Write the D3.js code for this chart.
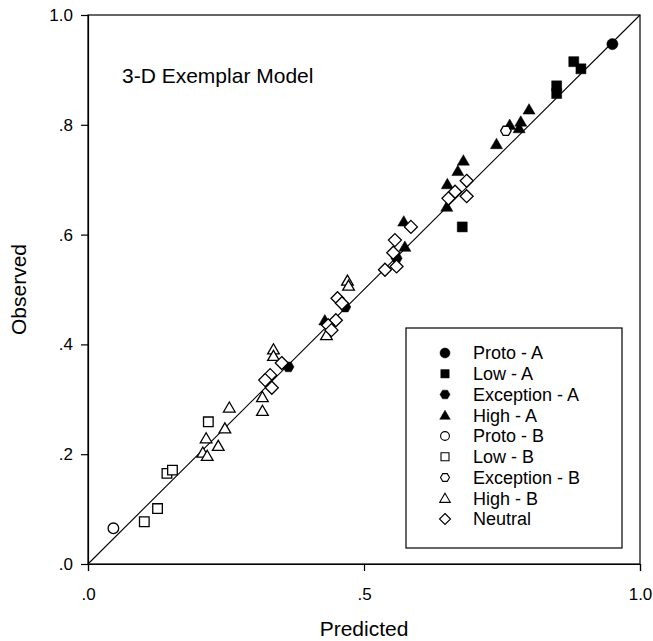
<!DOCTYPE html>
<html>
<head>
<meta charset="utf-8">
<script src="https://cdn.jsdelivr.net/npm/d3@7"></script>
<style>
body { margin: 0; background: #fff; }
text { font-family: "Liberation Sans", Arial, sans-serif; fill: #000; }
</style>
</head>
<body>
<script>
// values, [predicted, observed]
const protoA = [[0.950, 0.947]];
const lowA = [[0.880, 0.915], [0.893, 0.902], [0.849, 0.871], [0.849, 0.857], [0.678, 0.614]];
const exceptionA = [[0.363, 0.359], [0.559, 0.557], [0.466, 0.468]];
const highA = [[0.799, 0.828], [0.764, 0.800], [0.784, 0.806], [0.781, 0.794], [0.740, 0.765],
  [0.680, 0.735], [0.670, 0.716], [0.651, 0.692], [0.650, 0.651], [0.572, 0.624],
  [0.574, 0.578], [0.429, 0.444]];
const protoB = [[0.046, 0.065]];
const lowB = [[0.102, 0.077], [0.126, 0.101], [0.143, 0.165], [0.153, 0.171], [0.218, 0.259]];
const exceptionB = [[0.757, 0.789]];
const highB = [[0.256, 0.285], [0.248, 0.247], [0.214, 0.229], [0.236, 0.215], [0.208, 0.203],
  [0.216, 0.197], [0.316, 0.304], [0.316, 0.279], [0.336, 0.391], [0.336, 0.379],
  [0.470, 0.516], [0.472, 0.507], [0.432, 0.417]];
const neutral = [[0.686, 0.698], [0.665, 0.678], [0.686, 0.670], [0.653, 0.666], [0.585, 0.614],
  [0.556, 0.590], [0.553, 0.567], [0.559, 0.542], [0.538, 0.536], [0.452, 0.484],
  [0.460, 0.475], [0.449, 0.444], [0.435, 0.435], [0.441, 0.426], [0.351, 0.366],
  [0.330, 0.344], [0.321, 0.335], [0.333, 0.321]];

const seriesNames = ["Proto - A", "Low - A", "Exception - A", "High - A",
  "Proto - B", "Low - B", "Exception - B", "High - B", "Neutral"];
const seriesData = [protoA, lowA, exceptionA, highA, protoB, lowB, exceptionB, highB, neutral];

const xTicks = [0, 0.5, 1];
const xTickLabels = [".0", ".5", "1.0"];
const yTicks = [0, 0.2, 0.4, 0.6, 0.8, 1];
const yTickLabels = [".0", ".2", ".4", ".6", ".8", "1.0"];

// marker shapes, size argument is a radius
const shapes = {
  circle: { draw(c, r) { c.moveTo(r, 0); c.arc(0, 0, r, 0, 2 * Math.PI); } },
  square: { draw(c, r) { c.rect(-r, -r, 2 * r, 2 * r); } },
  triangle: { draw(c, r) {
    c.moveTo(0, -r * 1.05); c.lineTo(r * 1.1, r * 0.85); c.lineTo(-r * 1.1, r * 0.85); c.closePath();
  } },
  diamond: { draw(c, r) {
    c.moveTo(0, -r); c.lineTo(r, 0); c.lineTo(0, r); c.lineTo(-r, 0); c.closePath();
  } },
  hexagon: { draw(c, r) {
    for (let i = 0; i < 6; i++) {
      const a = Math.PI / 3 * i;
      if (i == 0) c.moveTo(r * Math.cos(a), r * Math.sin(a));
      else c.lineTo(r * Math.cos(a), r * Math.sin(a));
    }
    c.closePath();
  } }
};

// style for each series (same order as seriesNames)
const styles = [
  { type: "circle", filled: true, r: 5.6, lr: 5 },
  { type: "square", filled: true, r: 5, lr: 4.2 },
  { type: "hexagon", filled: true, r: 5.6, lr: 5 },
  { type: "triangle", filled: true, r: 5.5, lr: 4.8 },
  { type: "circle", filled: false, r: 5.3, lr: 4.4 },
  { type: "square", filled: false, r: 4.8, lr: 4 },
  { type: "hexagon", filled: false, r: 5.3, lr: 4.5 },
  { type: "triangle", filled: false, r: 5.3, lr: 4.8 },
  { type: "diamond", filled: false, r: 6.5, lr: 5.5 }
];

const width = 653, height = 641;
const plotLeft = 88, plotRight = 640, plotTop = 15, plotBottom = 564;

const svg = d3.select("body").append("svg")
  .attr("width", width)
  .attr("height", height);

const x = d3.scaleLinear().domain([0, 1]).range([plotLeft, plotRight]);
const y = d3.scaleLinear().domain([0, 1]).range([plotBottom, plotTop]);

// frame
svg.append("rect")
  .attr("x", plotLeft).attr("y", plotTop)
  .attr("width", plotRight - plotLeft).attr("height", plotBottom - plotTop)
  .attr("fill", "none").attr("stroke", "#000").attr("stroke-width", 1.2);

// axes
const xAxis = d3.axisBottom(x).tickValues(xTicks)
  .tickFormat((d, i) => xTickLabels[i]).tickSize(7).tickPadding(17);
const yAxis = d3.axisLeft(y).tickValues(yTicks)
  .tickFormat((d, i) => yTickLabels[i]).tickSize(7).tickPadding(8);

const gx = svg.append("g").attr("transform", "translate(0," + plotBottom + ")").call(xAxis);
const gy = svg.append("g").attr("transform", "translate(" + plotLeft + ",0)").call(yAxis);
[gx, gy].forEach(g => {
  g.select(".domain").attr("stroke", "#000").attr("stroke-width", 1.2);
  g.selectAll(".tick line").attr("stroke", "#000").attr("stroke-width", 1.2);
  g.selectAll(".tick text")
    .style("font-family", '"Liberation Sans", Arial, sans-serif')
    .style("font-size", "17px").attr("fill", "#000");
});

// axis titles
svg.append("text")
  .attr("x", (plotLeft + plotRight) / 2).attr("y", 636)
  .attr("text-anchor", "middle").style("font-size", "21px")
  .text("Predicted");
svg.append("text")
  .attr("transform", "translate(26," + ((plotTop + plotBottom) / 2) + ") rotate(-90)")
  .attr("text-anchor", "middle").style("font-size", "21px")
  .text("Observed");

// chart title
svg.append("text")
  .attr("x", 122).attr("y", 83)
  .style("font-size", "21px")
  .text("3-D Exemplar Model");

// identity line
svg.append("line")
  .attr("x1", x(0)).attr("y1", y(0))
  .attr("x2", x(1)).attr("y2", y(1))
  .attr("stroke", "#000").attr("stroke-width", 1.1);

// points
const plot = svg.append("g");
seriesData.forEach((data, i) => {
  const st = styles[i];
  plot.append("g").selectAll("path")
    .data(data)
    .enter().append("path")
    .attr("transform", d => "translate(" + x(d[0]) + "," + y(d[1]) + ")")
    .attr("d", d3.symbol().type(shapes[st.type]).size(st.r))
    .attr("fill", st.filled ? "#000" : "#fff")
    .attr("stroke", "#000")
    .attr("stroke-width", st.filled ? 0.5 : 1.3);
});

// legend
const legend = svg.append("g");
legend.append("rect")
  .attr("x", 406).attr("y", 328)
  .attr("width", 216).attr("height", 220)
  .attr("fill", "#fff").attr("stroke", "#000").attr("stroke-width", 1.2);

const rowY = d3.scalePoint().domain(seriesNames).range([353, 519]);

seriesNames.forEach((name, i) => {
  const st = styles[i];
  legend.append("path")
    .attr("transform", "translate(445," + rowY(name) + ")")
    .attr("d", d3.symbol().type(shapes[st.type]).size(st.lr))
    .attr("fill", st.filled ? "#000" : "#fff")
    .attr("stroke", "#000")
    .attr("stroke-width", st.filled ? 0.5 : 1.1);
  legend.append("text")
    .attr("x", 473).attr("y", rowY(name))
    .attr("dy", "0.36em")
    .style("font-size", "18px")
    .text(name);
});
</script>
</body>
</html>
